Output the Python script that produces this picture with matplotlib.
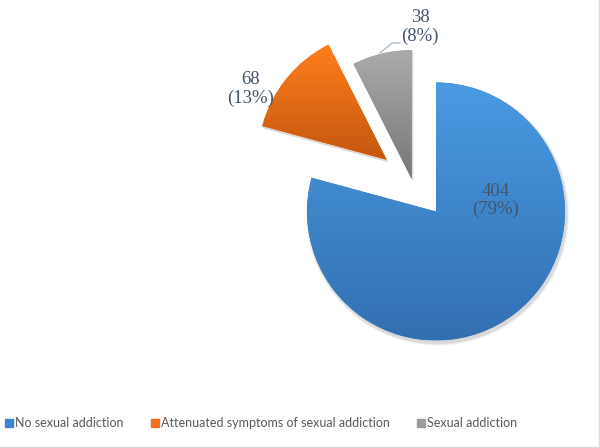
import numpy as np
import matplotlib
matplotlib.use("Agg")
import matplotlib.pyplot as plt
from matplotlib.colors import LinearSegmentedColormap
from matplotlib.patches import Wedge
from matplotlib.lines import Line2D

# ---- data ----
categories = ["No sexual addiction", "Attenuated symptoms of sexual addiction", "Sexual addiction"]
counts = [404, 68, 38]
percent_labels = ["79%", "13%", "8%"]

# ---- style ----
top_colors = ["#4A9BE3", "#FF7E1C", "#ABABAB"]
bottom_colors = ["#326FB1", "#C4570F", "#777777"]
legend_colors = ["#3F86D0", "#F07020", "#9A9A9A"]
offsets = [(0.0, 0.0), (-0.382, 0.401), (-0.188, 0.251)]
label_pos = [(0.465, 0.085), (-1.434, 0.95), (-0.124, 1.43)]
text_color = "#44546A"

fig = plt.figure(figsize=(6.0, 4.48), dpi=100)
W, H = 600, 448
cx, cy, rpx = 436, 211.5, 129
L = 1.6
side = 2 * L * rpx
ax = fig.add_axes([(cx - side / 2) / W, (H - cy - side / 2) / H, side / W, side / H])
ax.set_xlim(-L, L)
ax.set_ylim(-L, L)
ax.axis("off")

wedges, _ = ax.pie(counts, startangle=90, counterclock=False, radius=1.0,
                   colors=legend_colors, wedgeprops=dict(linewidth=0))

for i, w in enumerate(wedges):
    dx, dy = offsets[i]
    w.set_center((dx, dy))
    # soft shadow
    for k, a in enumerate([0.05, 0.05, 0.05]):
        sh = Wedge((dx + 0.012, dy - 0.02), 1.0 + 0.006 * (k + 1), w.theta1, w.theta2,
                   facecolor="black", alpha=a, linewidth=0, zorder=0.5)
        ax.add_patch(sh)
    w.set_zorder(1)
    # gradient fill
    th = np.radians(np.linspace(w.theta1, w.theta2, 200))
    xs = np.concatenate([[dx], dx + np.cos(th)])
    ys = np.concatenate([[dy], dy + np.sin(th)])
    cmap = LinearSegmentedColormap.from_list("g%d" % i, [bottom_colors[i], top_colors[i]])
    grad = np.linspace(0, 1, 256).reshape(-1, 1)
    im = ax.imshow(grad, cmap=cmap, origin="lower", aspect="auto",
                   extent=(xs.min(), xs.max(), ys.min(), ys.max()), zorder=1.5)
    im.set_clip_path(w)

ax.set_xlim(-L, L)
ax.set_ylim(-L, L)

for i in range(3):
    x, y = label_pos[i]
    ax.text(x, y, "%d\n(%s)" % (counts[i], percent_labels[i]), ha="center", va="center",
            fontsize=13.5, family="Liberation Serif", color=text_color, linespacing=1.12,
            zorder=5)

# leader line for the small slice
ax.plot([-0.434, -0.341, -0.279], [1.229, 1.306, 1.306], color="#A9BCD0", lw=1.0, zorder=4,
        clip_on=False)

handles = [Line2D([0], [0], marker="s", linestyle="none", markersize=6,
                  markerfacecolor=c, markeredgecolor=c) for c in legend_colors]
leg = fig.legend(handles, categories, loc="center", bbox_to_anchor=(0.435, 1 - 423 / H),
                 ncol=3, frameon=False, handlelength=0.6, handletextpad=0.2,
                 columnspacing=2.2, borderpad=0, borderaxespad=0,
                 prop={"family": "Lato", "size": 9})
for t in leg.get_texts():
    t.set_color("#595959")

# faint chart border (right and bottom)
fig.add_artist(Line2D([598.5 / W, 598.5 / W], [1.5 / H, 1], color="#D9D9D9", lw=1))
fig.add_artist(Line2D([0, 598.5 / W], [1.5 / H, 1.5 / H], color="#D9D9D9", lw=1))

fig.savefig("out.png", dpi=100, facecolor="white")
